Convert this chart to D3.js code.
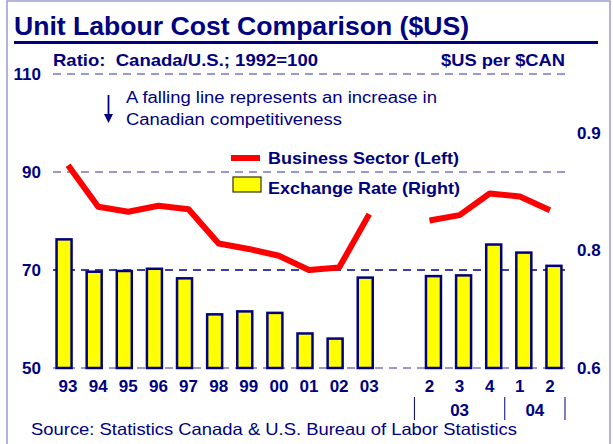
<!DOCTYPE html>
<html>
<head>
<meta charset="utf-8">
<script src="https://cdn.jsdelivr.net/npm/d3@7"></script>
<style>
    body { margin: 0; background: #fff; }
    text { font-family: Arial, "Liberation Sans", sans-serif; fill: #000080; }
    .tick text { font-weight: bold; font-size: 17px; }
</style>
</head>
<body>
<script>
// Data
const years = ["93", "94", "95", "96", "97", "98", "99", "00", "01", "02", "03"];
const quarters = ["2", "3", "4", "1", "2"];
const quarterGroups = [{ label: "03", count: 3 }, { label: "04", count: 2 }];

const businessAnnual = [91.4, 82.9, 81.9, 83.1, 82.4, 75.4, 74.3, 72.9, 70.0, 70.5, 81.4];
const businessQuarterly = [80.1, 81.2, 85.6, 85.0, 82.2];

const exchangeAnnual = [0.775, 0.731, 0.732, 0.735, 0.722, 0.673, 0.677, 0.675, 0.647, 0.640, 0.723];
const exchangeQuarterly = [0.725, 0.726, 0.768, 0.757, 0.739];

const leftTicks = [50, 70, 90, 110];
const rightTickLabels = ["0.6", "0.8", "0.9"];

const width = 613, height = 444;
const margin = { left: 53, right: 48, top: 74, bottom: 76 };
const plotW = width - margin.left - margin.right;
const plotH = height - margin.top - margin.bottom;

// one slot per category, with an empty slot between annual and quarterly
let slots = years.map((y, i) => "y" + i).concat(["gap"]).concat(quarters.map((q, i) => "q" + i));

let x = d3.scaleBand()
    .domain(slots)
    .range([0, plotW]);

let yLeft = d3.scaleLinear().domain([50, 110]).range([plotH, 0]);
let yRight = d3.scaleLinear().domain([0.6, 1.0]).range([plotH, 0]);
// right-hand labels sit at evenly spaced positions in the original
let yRightLabels = d3.scaleLinear().domain([0, 2.5]).range([plotH, 0]);

let svg = d3.select("body").append("svg")
    .attr("width", width)
    .attr("height", height);

// frame
svg.append("rect")
    .attr("x", 7).attr("y", 1)
    .attr("width", 603).attr("height", 460)
    .attr("fill", "none")
    .attr("stroke", "#9a9ad0")
    .attr("stroke-width", 1.5);

// helper for the horizontally stretched text of the original
function addText(px, py, str, size, bold, len, anchor) {
    let t = svg.append("text")
        .attr("x", px).attr("y", py)
        .style("font-size", size + "px")
        .style("font-weight", bold ? "bold" : "normal")
        .style("text-anchor", anchor || "start")
        .attr("xml:space", "preserve")
        .text(str);
    if (len) {
        t.attr("textLength", len).attr("lengthAdjust", "spacingAndGlyphs");
    }
    return t;
}

// title
addText(14, 35, "Unit Labour Cost Comparison ($US)", 25.5, true, 455);
svg.append("line")
    .attr("x1", 14).attr("x2", 598)
    .attr("y1", 42.5).attr("y2", 42.5)
    .attr("stroke", "#000080")
    .attr("stroke-width", 3);

addText(53, 66, "Ratio:  Canada/U.S.; 1992=100", 17, true, 265);
addText(565, 66, "$US per $CAN", 17, true, 124, "end");

let g = svg.append("g")
    .attr("transform", "translate(" + margin.left + "," + margin.top + ")");

// gridlines
g.selectAll(".grid")
    .data(leftTicks)
    .enter()
    .append("line")
    .attr("class", "grid")
    .attr("x1", 0)
    .attr("x2", plotW)
    .attr("y1", d => yLeft(d))
    .attr("y2", d => yLeft(d))
    .attr("stroke", d => d === 70 ? "#000080" : "#7878c0")
    .attr("stroke-width", 1.3)
    .attr("stroke-dasharray", "8,6");

// axes
let leftAxis = d3.axisLeft(yLeft)
    .tickValues(leftTicks)
    .tickSize(0)
    .tickPadding(12);
g.append("g")
    .attr("class", "y axis")
    .call(leftAxis)
    .call(a => a.select(".domain").remove());

let rightAxis = d3.axisRight(yRightLabels)
    .tickValues([0, 1, 2])
    .tickFormat(i => rightTickLabels[i])
    .tickSize(0)
    .tickPadding(12);
g.append("g")
    .attr("class", "y axis right")
    .attr("transform", "translate(" + plotW + ",0)")
    .call(rightAxis)
    .call(a => a.select(".domain").remove());

let xLabels = years.concat([""]).concat(quarters);
let xAxis = d3.axisBottom(x)
    .tickFormat((d, i) => xLabels[i])
    .tickSize(0)
    .tickPadding(12);
g.append("g")
    .attr("class", "x axis")
    .attr("transform", "translate(0," + plotH + ")")
    .call(xAxis)
    .call(a => a.select(".domain").remove());

// quarter year groups
let groupStart = years.length + 1;
let sepX = [x(slots[groupStart])];
quarterGroups.forEach(function (grp) {
    let first = slots[groupStart];
    let last = slots[groupStart + grp.count - 1];
    let mid = (x(first) + x(last) + x.bandwidth()) / 2;
    g.append("text")
        .attr("x", mid)
        .attr("y", plotH + 48)
        .style("font-size", "17px")
        .style("font-weight", "bold")
        .style("text-anchor", "middle")
        .text(grp.label);
    groupStart += grp.count;
    sepX.push(x(last) + x.bandwidth());
});
g.selectAll(".sep")
    .data(sepX)
    .enter()
    .append("line")
    .attr("class", "sep")
    .attr("x1", d => d).attr("x2", d => d)
    .attr("y1", plotH + 29).attr("y2", plotH + 52)
    .attr("stroke", "#000080")
    .attr("stroke-width", 1);

// bars
let barW = 15;
let bars = exchangeAnnual.map((v, i) => ({ key: "y" + i, value: v, shift: -4 }))
    .concat(exchangeQuarterly.map((v, i) => ({ key: "q" + i, value: v, shift: 4 })));

g.selectAll(".bar")
    .data(bars)
    .enter()
    .append("rect")
    .attr("class", "bar")
    .attr("x", d => x(d.key) + x.bandwidth() / 2 + d.shift - barW / 2)
    .attr("y", d => yRight(d.value))
    .attr("width", barW)
    .attr("height", d => plotH - yRight(d.value))
    .attr("fill", "#ffff00")
    .attr("stroke", "#000080")
    .attr("stroke-width", 2.5);

// business sector line, two segments
let line = d3.line()
    .x(d => x(d.key) + x.bandwidth() / 2)
    .y(d => yLeft(d.value));

let segments = [
    businessAnnual.map((v, i) => ({ key: "y" + i, value: v })),
    businessQuarterly.map((v, i) => ({ key: "q" + i, value: v }))
];
g.selectAll(".bizLine")
    .data(segments)
    .enter()
    .append("path")
    .attr("class", "bizLine")
    .attr("d", line)
    .attr("fill", "none")
    .attr("stroke", "#ff0000")
    .attr("stroke-width", 6)
    .attr("stroke-linejoin", "round");

// legend
svg.append("line")
    .attr("x1", 231).attr("x2", 260)
    .attr("y1", 158).attr("y2", 158)
    .attr("stroke", "#ff0000")
    .attr("stroke-width", 6);
addText(268, 164, "Business Sector (Left)", 17, true, 191);
svg.append("rect")
    .attr("x", 233).attr("y", 177)
    .attr("width", 28).attr("height", 15)
    .attr("fill", "#ffff00")
    .attr("stroke", "#333300")
    .attr("stroke-width", 1.2);
addText(268, 194, "Exchange Rate (Right)", 17, true, 192);

// note with arrow
svg.append("line")
    .attr("x1", 108.5).attr("x2", 108.5)
    .attr("y1", 95).attr("y2", 116)
    .attr("stroke", "#000080")
    .attr("stroke-width", 1.8);
svg.append("path")
    .attr("d", "M104,114 L113,114 L108.5,123 Z")
    .attr("fill", "#000080");
addText(126, 103, "A falling line represents an increase in", 16, false, 311);
addText(126, 125, "Canadian competitiveness", 16, false, 216);

// source
addText(31, 435, "Source: Statistics Canada & U.S. Bureau of Labor Statistics", 16.5, false, 486);
</script>
</body>
</html>
